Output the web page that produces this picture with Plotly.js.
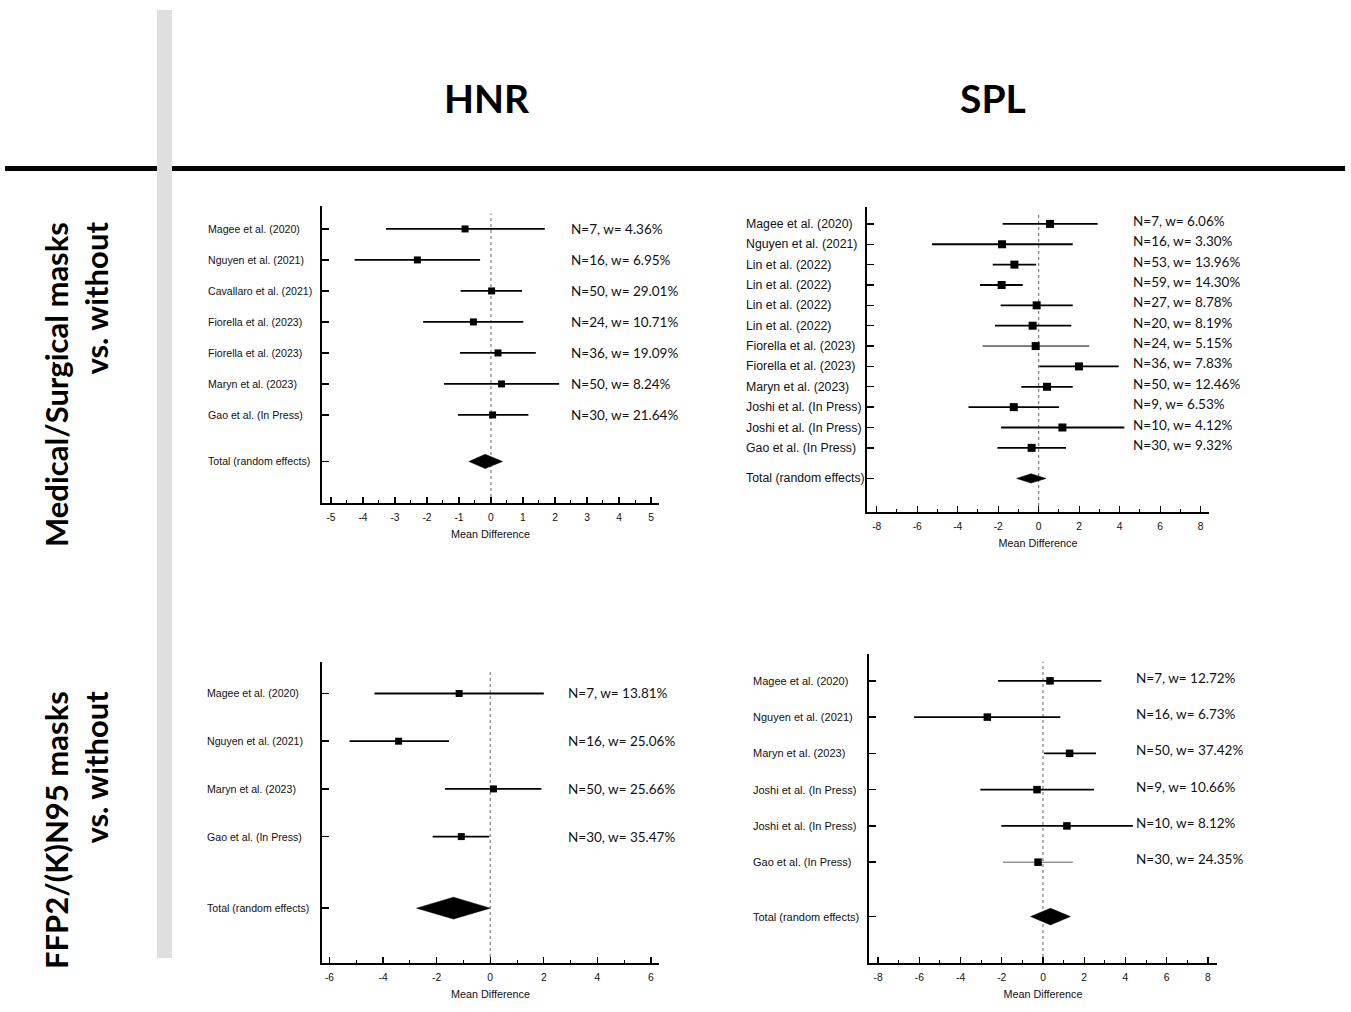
<!DOCTYPE html>
<html>
<head>
<meta charset="utf-8">
<script src="https://cdn.plot.ly/plotly-3.0.1.min.js"></script>
<style>html,body{margin:0;padding:0;background:#fff;}#chart{width:1351px;height:1012px;}</style>
</head>
<body>
<div id="chart"></div>
<script>
// ---------- DATA ----------
// Panel A: HNR, Medical/Surgical masks vs. without
const hnrMedStudies = ["Magee et al. (2020)", "Nguyen et al. (2021)", "Cavallaro et al. (2021)", "Fiorella et al. (2023)", "Fiorella et al. (2023)", "Maryn et al. (2023)", "Gao et al. (In Press)"];
const hnrMedMD = [-0.81, -2.30, 0.02, -0.55, 0.22, 0.33, 0.05];
const hnrMedLo = [-3.28, -4.26, -0.95, -2.12, -0.97, -1.47, -1.03];
const hnrMedHi = [1.68, -0.34, 0.97, 1.01, 1.40, 2.13, 1.17];
const hnrMedN = [7, 16, 50, 24, 36, 50, 30];
const hnrMedW = [4.36, 6.95, 29.01, 10.71, 19.09, 8.24, 21.64];
const hnrMedTotal = [-0.18, -0.69, 0.36]; // estimate, lower, upper
const hnrMedTicks = [-5, -4, -3, -2, -1, 0, 1, 2, 3, 4, 5];

// Panel B: SPL, Medical/Surgical masks vs. without
const splMedStudies = ["Magee et al. (2020)", "Nguyen et al. (2021)", "Lin et al. (2022)", "Lin et al. (2022)", "Lin et al. (2022)", "Lin et al. (2022)", "Fiorella et al. (2023)", "Fiorella et al. (2023)", "Maryn et al. (2023)", "Joshi et al. (In Press)", "Joshi et al. (In Press)", "Gao et al. (In Press)"];
const splMedMD = [0.56, -1.81, -1.20, -1.83, -0.10, -0.30, -0.15, 1.99, 0.41, -1.23, 1.17, -0.35];
const splMedLo = [-1.78, -5.27, -2.27, -2.90, -1.88, -2.16, -2.77, 0.03, -0.86, -3.47, -1.86, -2.04];
const splMedHi = [2.91, 1.68, -0.13, -0.79, 1.68, 1.61, 2.50, 3.95, 1.68, 1.00, 4.23, 1.35];
const splMedN = [7, 16, 53, 59, 27, 20, 24, 36, 50, 9, 10, 30];
const splMedW = [6.06, 3.30, 13.96, 14.30, 8.78, 8.19, 5.15, 7.83, 12.46, 6.53, 4.12, 9.32];
const splMedTotal = [-0.38, -1.09, 0.36];
const splMedTicks = [-8, -6, -4, -2, 0, 2, 4, 6, 8];

// Panel C: HNR, FFP2/(K)N95 masks vs. without
const hnrFfpStudies = ["Magee et al. (2020)", "Nguyen et al. (2021)", "Maryn et al. (2023)", "Gao et al. (In Press)"];
const hnrFfpMD = [-1.16, -3.42, 0.12, -1.08];
const hnrFfpLo = [-4.32, -5.25, -1.69, -2.15];
const hnrFfpHi = [2.00, -1.54, 1.91, -0.04];
const hnrFfpN = [7, 16, 50, 30];
const hnrFfpW = [13.81, 25.06, 25.66, 35.47];
const hnrFfpTotal = [-1.37, -2.75, 0.00];
const hnrFfpTicks = [-6, -4, -2, 0, 2, 4, 6];

// Panel D: SPL, FFP2/(K)N95 masks vs. without
const splFfpStudies = ["Magee et al. (2020)", "Nguyen et al. (2021)", "Maryn et al. (2023)", "Joshi et al. (In Press)", "Joshi et al. (In Press)", "Gao et al. (In Press)"];
const splFfpMD = [0.34, -2.70, 1.29, -0.29, 1.16, -0.24];
const splFfpLo = [-2.18, -6.25, 0.05, -3.04, -2.02, -1.94];
const splFfpHi = [2.83, 0.84, 2.57, 2.47, 4.36, 1.45];
const splFfpN = [7, 16, 50, 9, 10, 30];
const splFfpW = [12.72, 6.73, 37.42, 10.66, 8.12, 24.35];
const splFfpTotal = [0.36, -0.60, 1.33];
const splFfpTicks = [-8, -6, -4, -2, 0, 2, 4, 6, 8];

const colTitles = ["HNR", "SPL"];
const rowTitles = ["Medical/Surgical masks<br>vs. without", "FFP2/(K)N95 masks<br>vs. without"];
const totalLabel = "Total (random effects)";
const xTitle = "Mean Difference";

// ---------- LAYOUT (pixel geometry / styles) ----------
const W = 1351, H = 1012;
const fx = p => p / W;
const fy = p => 1 - p / H;

const panels = [
  {studies: hnrMedStudies, md: hnrMedMD, lo: hnrMedLo, hi: hnrMedHi, n: hnrMedN, w: hnrMedW, tot: hnrMedTotal, ticks: hnrMedTicks,
   xd: [322, 659], yd: [206, 503], xr: [-5.28, 5.25], minor: 0.5, yr: [8.84, -0.74],
   labX: 206, labSize: 10.6, annX: 569, annShift: 0, ms: 7, thick: [1.8,1.8,1.8,1.8,1.8,1.8,1.8]},
  {studies: splMedStudies, md: splMedMD, lo: splMedLo, hi: splMedHi, n: splMedN, w: splMedW, tot: splMedTotal, ticks: splMedTicks,
   xd: [867, 1209], yd: [207, 512], xr: [-8.48, 8.41], minor: 1, yr: [14.15, -0.83],
   labX: 744, labSize: 12.3, annX: 1131, annShift: 3, ms: 8, thick: [1.8,1.8,1.8,1.8,1.8,1.8,1.0,1.8,1.8,1.8,1.8,1.8]},
  {studies: hnrFfpStudies, md: hnrFfpMD, lo: hnrFfpLo, hi: hnrFfpHi, n: hnrFfpN, w: hnrFfpW, tot: hnrFfpTotal, ticks: hnrFfpTicks,
   xd: [322, 659], yd: [662, 963], xr: [-6.28, 6.30], minor: 1, yr: [5.65, -0.66],
   labX: 205, labSize: 10.6, annX: 566, annShift: 0, ms: 7, thick: [1.8,1.8,1.8,1.8]},
  {studies: splFfpStudies, md: splFfpMD, lo: splFfpLo, hi: splFfpHi, n: splFfpN, w: splFfpW, tot: splFfpTotal, ticks: splFfpTicks,
   xd: [869, 1217], yd: [654, 963], xr: [-8.44, 8.44], minor: 1, yr: [7.78, -0.74],
   labX: 751, labSize: 11, annX: 1134, annShift: 3, ms: 7.5, thick: [1.8,1.8,1.8,1.8,1.8,0.8]}
];

const axisFont = {family: "Liberation Sans, Arial, sans-serif", size: 10.3, color: "#111"};
const annFont = {family: "Lato, Carlito, sans-serif", size: 13.5, color: "#111"};
const diamondHalf = 0.23;

const traces = [];
const layout = {
  width: W, height: H,
  margin: {l: 0, r: 0, t: 0, b: 0},
  paper_bgcolor: "#fff", plot_bgcolor: "#fff",
  showlegend: false, hovermode: false,
  annotations: [], shapes: []
};

panels.forEach((p, k) => {
  const xa = k === 0 ? "x" : "x" + (k + 1);
  const ya = k === 0 ? "y" : "y" + (k + 1);
  const xKey = k === 0 ? "xaxis" : "xaxis" + (k + 1);
  const yKey = k === 0 ? "yaxis" : "yaxis" + (k + 1);
  const nS = p.studies.length;
  const rows = p.studies.map((_, i) => i);
  const totRow = nS + 0.5;

  layout[xKey] = {
    domain: [fx(p.xd[0]), fx(p.xd[1])], anchor: ya, range: p.xr,
    showline: true, linecolor: "#000", linewidth: 1.6,
    ticks: "inside", ticklen: 6, tickwidth: 1.2, tickcolor: "#000",
    tickmode: "array", tickvals: p.ticks, ticktext: p.ticks.map(v => String(v)),
    minor: {dtick: p.minor, tick0: 0, ticks: "inside", ticklen: 3, tickwidth: 1, tickcolor: "#000", showgrid: false},
    tickfont: axisFont, ticklabelstandoff: 4, showgrid: false, zeroline: false, fixedrange: true,
    title: {text: xTitle, font: {family: axisFont.family, size: 10.8, color: "#111"}, standoff: 8}
  };
  layout[yKey] = {
    domain: [fy(p.yd[1]), fy(p.yd[0])], anchor: xa, range: p.yr,
    showline: true, linecolor: "#000", linewidth: 1.6,
    ticks: "inside", ticklen: 7, tickwidth: 1.4, tickcolor: "#000",
    tickmode: "array", tickvals: rows.concat([totRow]), showticklabels: false,
    showgrid: false, zeroline: false, fixedrange: true
  };

  // dotted zero line
  layout.shapes.push({type: "line", xref: xa, yref: ya + " domain", x0: 0, x1: 0, y0: 0, y1: 0.975,
    line: {color: "#666", width: 1, dash: "dot"}, layer: "below"});

  // studies
  p.studies.forEach((s, i) => {
    traces.push({
      type: "scatter", mode: "markers", xaxis: xa, yaxis: ya,
      x: [p.md[i]], y: [i],
      marker: {symbol: "square", size: p.ms, color: "#000"},
      error_x: {type: "data", symmetric: false, array: [p.hi[i] - p.md[i]], arrayminus: [p.md[i] - p.lo[i]],
        thickness: p.thick[i], width: 0, color: p.thick[i] < 1 ? "#333" : "#000"},
      cliponaxis: false
    });
    layout.annotations.push({xref: "paper", yref: ya, x: fx(p.labX), y: i, xanchor: "left", yanchor: "middle",
      text: s, showarrow: false, font: {family: axisFont.family, size: p.labSize, color: "#111"}});
    layout.annotations.push({xref: "paper", yref: ya, x: fx(p.annX), y: i, xanchor: "left", yanchor: "middle",
      yshift: p.annShift, text: "N=" + p.n[i] + ", w= " + p.w[i].toFixed(2) + "%", showarrow: false, font: annFont});
  });

  // total diamond
  const t = p.tot;
  traces.push({
    type: "scatter", mode: "lines", xaxis: xa, yaxis: ya,
    x: [t[1], t[0], t[2], t[0], t[1]],
    y: [totRow, totRow - diamondHalf, totRow, totRow + diamondHalf, totRow],
    fill: "toself", fillcolor: "#000", line: {color: "#000", width: 0.5}
  });
  layout.annotations.push({xref: "paper", yref: ya, x: fx(p.labX), y: totRow, xanchor: "left", yanchor: "middle",
    text: totalLabel, showarrow: false, font: {family: axisFont.family, size: p.labSize, color: "#111"}});
});

// column titles
[[487, colTitles[0]], [993, colTitles[1]]].forEach(([xp, txt]) => {
  layout.annotations.push({xref: "paper", yref: "paper", x: fx(xp), y: fy(98), xanchor: "center", yanchor: "middle",
    text: "<b>" + txt + "</b>", showarrow: false, font: {family: "Lato, sans-serif", size: 39, color: "#000"}});
});
// row titles
[[385, rowTitles[0]], [830, rowTitles[1]]].forEach(([yp, txt]) => {
  layout.annotations.push({xref: "paper", yref: "paper", x: fx(76), y: fy(yp), xanchor: "center", yanchor: "middle",
    text: "<b>" + txt + "</b>", textangle: -90, align: "right", showarrow: false,
    font: {family: "Lato, sans-serif", size: 31, color: "#000"}});
});

// separators
layout.shapes.push({type: "rect", xref: "paper", yref: "paper", x0: fx(5), x1: fx(157), y0: fy(171), y1: fy(166), fillcolor: "#000", line: {width: 0}});
layout.shapes.push({type: "rect", xref: "paper", yref: "paper", x0: fx(172), x1: fx(1345), y0: fy(171), y1: fy(166), fillcolor: "#000", line: {width: 0}});
layout.shapes.push({type: "rect", xref: "paper", yref: "paper", x0: fx(157), x1: fx(172), y0: fy(958), y1: fy(10), fillcolor: "#dedede", line: {width: 0}, layer: "below"});

Plotly.newPlot("chart", traces, layout, {staticPlot: true, displayModeBar: false});
</script>
</body>
</html>
